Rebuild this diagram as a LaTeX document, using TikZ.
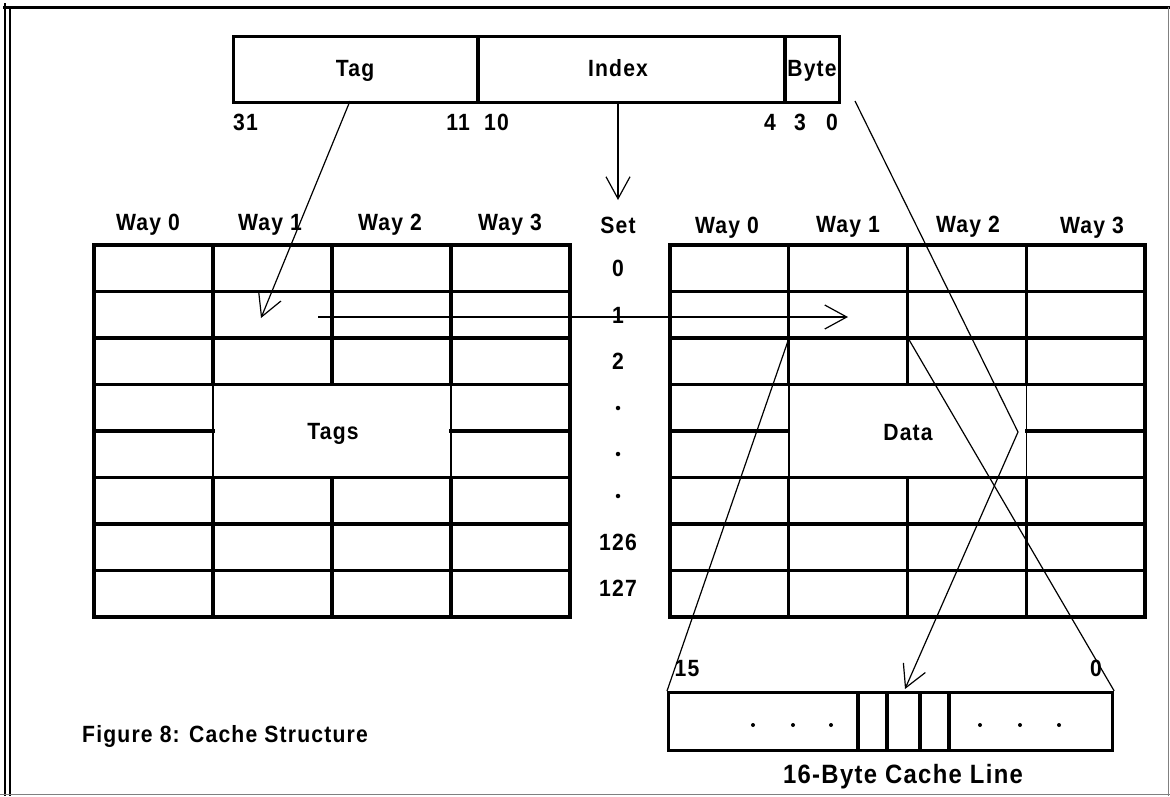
\documentclass[tikz,border=0pt]{standalone}
\usepackage{fontspec}
\setmainfont{Liberation Sans}[FakeStretch=0.9, LetterSpace=5]
\usetikzlibrary{arrows.meta}
\newcommand\mygrid[2]{%
  \foreach \k in {0,1,2,3,5,6,7,8}
    \draw[gridline] (#1,{245+46.5*\k}) -- ({#1+4*#2},{245+46.5*\k});
  \draw[gridline] (#1,431) -- ({#1+#2},431);
  \draw[gridline] ({#1+3*#2},431) -- ({#1+4*#2},431);
  \draw[gridline] (#1,245) -- (#1,617);
  \draw[gridline] ({#1+4*#2},245) -- ({#1+4*#2},617);
  \foreach \c in {1,2,3} {
    \draw[gridline] ({#1+\c*#2},245) -- ({#1+\c*#2},384.5);
    \draw[gridline] ({#1+\c*#2},477.5) -- ({#1+\c*#2},617);
  }
  \draw[thinline] ({#1+#2},384.5) -- ({#1+#2},477.5);
  \draw[thinline] ({#1+3*#2},384.5) -- ({#1+3*#2},477.5);
}
\begin{document}
\begin{tikzpicture}[x=1pt,y=-1pt,
  lbl/.style={font=\fontsize{23.5}{26}\selectfont\bfseries, inner sep=0pt, anchor=center, text height=17pt, text depth=0pt},
  gridline/.style={line width=3.2pt, line cap=rect},
  thinline/.style={line width=1.5pt},
  conn/.style={line width=1.2pt},
  barb/.style={-{Straight Barb[length=22pt,width=24pt]}},
  dot/.style={fill, circle, inner sep=0pt, minimum size=4.5pt},
]
\useasboundingbox (0,0) rectangle (1170,796);
% frame
\draw[line width=2pt] (4.5,3) -- (4.5,796);
\draw[line width=1.5pt] (10,8) -- (10,796);
\draw[line width=3pt] (3,7) -- (1170,7);
\draw[line width=0.8pt, gray] (1168,7) -- (1168,796);
\draw[line width=1pt, gray] (0,794.5) -- (1170,794.5);

% address box
\node[draw, line width=3.2pt, minimum width=606pt, minimum height=66pt, inner sep=0pt, anchor=north west] (addr) at (232,35) {};
\draw[line width=3.2pt] (478,35) -- (478,101);
\draw[line width=3.2pt] (785,35) -- (785,101);
\node[lbl] (ftag) at (355,68) {Tag};
\node[lbl] (fidx) at (618,68) {Index};
\node[lbl] (fbyte) at (812,68) {Byte};
\node[lbl, anchor=west] (b31) at (233,122) {31};
\node[lbl, anchor=east] (b11) at (470,122) {11};
\node[lbl, anchor=west] (b10) at (484,122) {10};
\node[lbl, anchor=east] (b4) at (776,122) {4};
\node[lbl, anchor=west] (b3) at (794,122) {3};
\node[lbl, anchor=east] (b0) at (838,122) {0};

% grids
\mygrid{94}{119}
\mygrid{670}{118.75}

% headers
\node[lbl] (lw0) at (148,222) {Way 0};
\node[lbl] (lw1) at (270,222) {Way 1};
\node[lbl] (lw2) at (390,222) {Way 2};
\node[lbl] (lw3) at (510,222) {Way 3};
\node[lbl] (rw0) at (727,225) {Way 0};
\node[lbl] (rw1) at (848,224) {Way 1};
\node[lbl] (rw2) at (968,224) {Way 2};
\node[lbl] (rw3) at (1092,225) {Way 3};
\node[lbl] (set) at (618,225) {Set};
\node[lbl] (tags) at (333,431) {Tags};
\node[lbl] (data) at (908,432) {Data};

% set numbers
\node[lbl] (s0) at (618,268) {0};
\node[lbl] (s1) at (618,315) {1};
\node[lbl] (s2) at (618,361) {2};
\node[dot] (d1) at (618,408) {};
\node[dot] (d2) at (618,454) {};
\node[dot] (d3) at (618,496) {};
\node[lbl] (s126) at (618,542) {126};
\node[lbl] (s127) at (618,588) {127};

% cache line
\node[draw, line width=3.2pt, minimum width=444pt, minimum height=58pt, inner sep=0pt, anchor=north west] (cl) at (667,691) {};
\foreach \x in {858,887,920,949} \draw[line width=3.2pt] (\x,691) -- (\x,749);
\foreach \x/\n in {753/a,793/b,831/c,980/d,1020/e,1059/f} \node[dot, minimum size=4pt] (cd\n) at (\x,725) {};
\node[lbl] (l15) at (687,668) {15};
\node[lbl] (l0) at (1096,668) {0};
\node[lbl, font=\fontsize{26.5}{29}\selectfont\bfseries, text height=19pt] (cap) at (903,774) {16-Byte Cache Line};
\node[lbl, anchor=west] (fig) at (82,734) {Figure 8: Cache Structure};

% connectors
\coordinate (tagS) at (350,101);
\coordinate (tagE) at (261,318);
\coordinate (idxS) at (618,101);
\coordinate (idxE) at (618,200);
\coordinate (setS) at (318,317);
\coordinate (setE) at (848,317);
\coordinate (byS) at (855,101);
\coordinate (byM) at (1018,432);
\coordinate (byE) at (905,689);
\coordinate (exL) at (789,338);
\coordinate (exR) at (908,338);
\draw[conn,barb] (tagS) -- (tagE);
\draw[conn,barb] (idxS) -- (idxE);
\draw[conn,barb] (setS) -- (setE);
\draw[conn,barb] (byS) -- (byM) -- (byE);
\draw[conn] (exL) -- (cl.north west);
\draw[conn] (exR) -- (cl.north east);
\end{tikzpicture}
\end{document}
